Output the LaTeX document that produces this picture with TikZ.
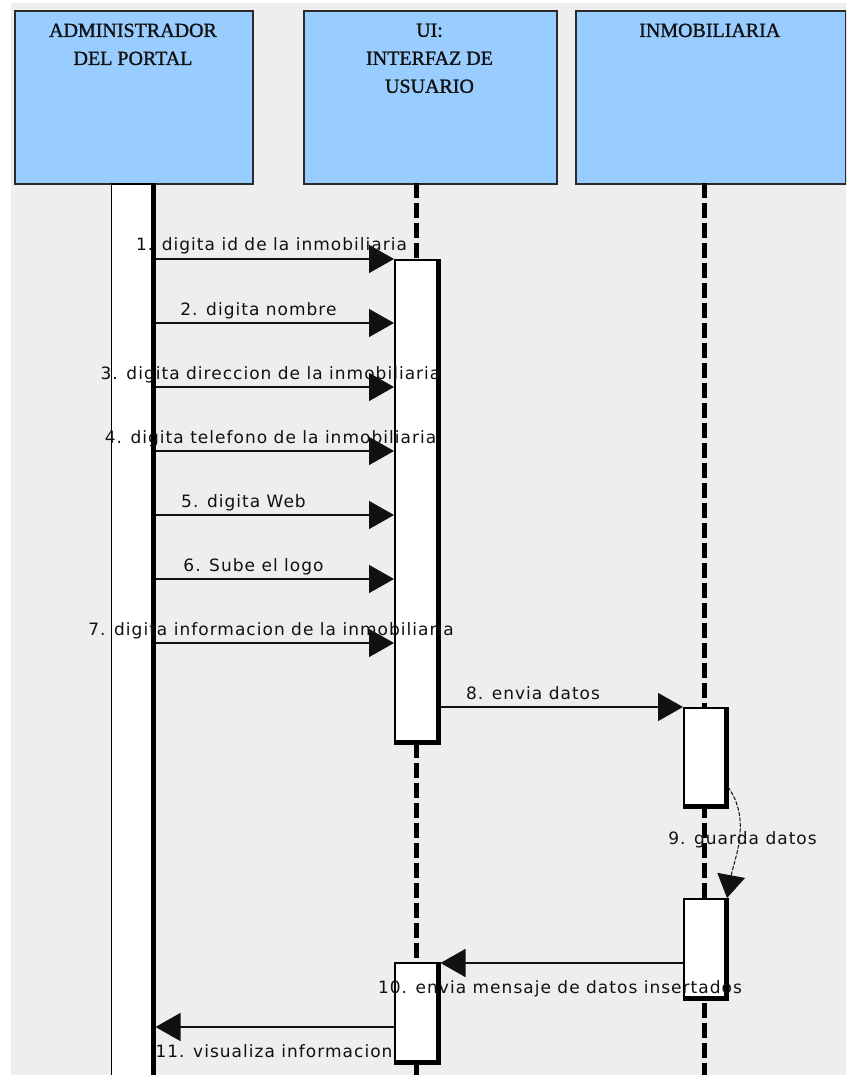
\documentclass[tikz,border=0pt]{standalone}
\usepackage{fontspec}
\setmainfont{Liberation Serif}
\newfontfamily\hdrfont[FakeBold=1.2]{Liberation Serif}
\newfontfamily\msgfont[LetterSpace=6]{DejaVu Sans}
\usetikzlibrary{arrows.meta}
\definecolor{bg}{HTML}{EEEEEE}
\definecolor{hdr}{HTML}{99CCFF}
\definecolor{bd}{HTML}{2A2A2A}
\definecolor{ink}{HTML}{111111}
\begin{document}
\begin{tikzpicture}[x=1pt,y=-1pt,
  header/.style={draw=bd, line width=2pt, fill=hdr, inner sep=0pt, anchor=north west},
  htext/.style={font={\fontsize{20}{28}\selectfont\hdrfont}, align=center, anchor=north, inner sep=0pt, text=ink},
  bar/.style={draw=black, line width=1.5pt, fill=white, inner sep=0pt, anchor=north west},
  barshadow/.style={line width=5pt, black},
  lifeline/.style={line width=5pt, black, dash pattern=on 15pt off 5pt},
  msg/.style={line width=1.5pt, ink, -{Triangle[length=25pt,width=28pt]}},
  selfmsg/.style={line width=1pt, ink, dash pattern=on 4pt off 1.5pt, -{Triangle[length=23pt,width=28pt]}},
  lbl/.style={font={\fontsize{17}{20}\selectfont\msgfont}, anchor=base, inner sep=0pt, text=ink}
]
\useasboundingbox (0,0) rectangle (846,1075);
\clip (0,0) rectangle (846,1075);
\fill[white] (0,0) rectangle (846,1075);
\fill[bg] (11,3) rectangle (846,1075);

% header boxes
\node[header, minimum width=238pt, minimum height=173pt] (A) at (14,10) {};
\node[header, minimum width=253pt, minimum height=173pt] (B) at (303,10) {};
\node[header, minimum width=270pt, minimum height=173pt] (C) at (575,10) {};
\node[htext] (At) at (133,23.5) {ADMINISTRADOR\\DEL PORTAL};
\node[htext] (Bt) at (429.5,23.5) {UI:\\INTERFAZ DE\\USUARIO};
\node[htext] (Ct) at (709.75,23.5) {INMOBILIARIA};

% lifelines
\coordinate (Bl) at (416.5,183);
\coordinate (Cl) at (704.5,183);
\coordinate (Bend) at (416.5,1080);
\coordinate (Cend) at (704.5,1080);
\draw[lifeline] (Bl) -- (Bend);
\draw[lifeline] (Cl) -- (Cend);

% actor lifeline (full activation)
\node[bar, minimum width=41pt, minimum height=910pt] (LA) at (110.5,183.5) {};
\draw[barshadow] (LA.north east) -- (LA.south east);

% activation bars
\node[bar, minimum width=42.5pt, minimum height=481.5pt] (B1) at (394,259) {};
\draw[barshadow] (B1.north east) -- (B1.south east) -- (B1.south west);
\node[bar, minimum width=42.5pt, minimum height=98.5pt] (B2) at (394,962) {};
\draw[barshadow] (B2.north east) -- (B2.south east) -- (B2.south west);
\node[bar, minimum width=41.5pt, minimum height=97.5pt] (C1) at (683,707) {};
\draw[barshadow] (C1.north east) -- (C1.south east) -- (C1.south west);
\node[bar, minimum width=41.5pt, minimum height=98.5pt] (C2) at (683,898) {};
\draw[barshadow] (C2.north east) -- (C2.south east) -- (C2.south west);

% message rows
\coordinate (y1) at (0,259);
\coordinate (y2) at (0,323);
\coordinate (y3) at (0,387);
\coordinate (y4) at (0,451);
\coordinate (y5) at (0,515);
\coordinate (y6) at (0,579);
\coordinate (y7) at (0,643);
\coordinate (y8) at (0,707);
\coordinate (y10) at (0,963);
\coordinate (y11) at (0,1027);

\foreach \r in {1,...,7} {
  \draw[msg] ([xshift=2.5pt]LA.east |- y\r) -- (B1.west |- y\r);
}
\draw[msg] ([xshift=2.5pt]B1.east |- y8) -- (C1.west |- y8);
\coordinate (s9) at (728,787);
\draw[selfmsg] (s9) .. controls (752,820) and (734,860) .. ([xshift=1pt]C2.north east);
\draw[msg] (C2.west |- y10) -- ([xshift=2.5pt]B2.east |- y10);
\draw[msg] (B2.west |- y11) -- ([xshift=2.5pt]LA.east |- y11);

% labels
\node[lbl] (L1) at (271.5,251) {1. digita id de la inmobiliaria};
\node[lbl] (L2) at (258.5,315) {2. digita nombre};
\node[lbl] (L3) at (270.5,379) {3. digita direccion de la inmobiliaria};
\node[lbl] (L4) at (270.5,443) {4. digita telefono de la inmobiliaria};
\node[lbl] (L5) at (243.5,507) {5. digita Web};
\node[lbl] (L6) at (253.5,571) {6. Sube el logo};
\node[lbl] (L7) at (271,635) {7. digita informacion de la inmobiliaria};
\node[lbl] (L8) at (533,699) {8. envia datos};
\node[lbl] (L9) at (742.5,844) {9. guarda datos};
\node[lbl] (L10) at (560,993) {10. envia mensaje de datos insertados};
\node[lbl] (L11) at (274,1057) {11. visualiza informacion};
\end{tikzpicture}
\end{document}
